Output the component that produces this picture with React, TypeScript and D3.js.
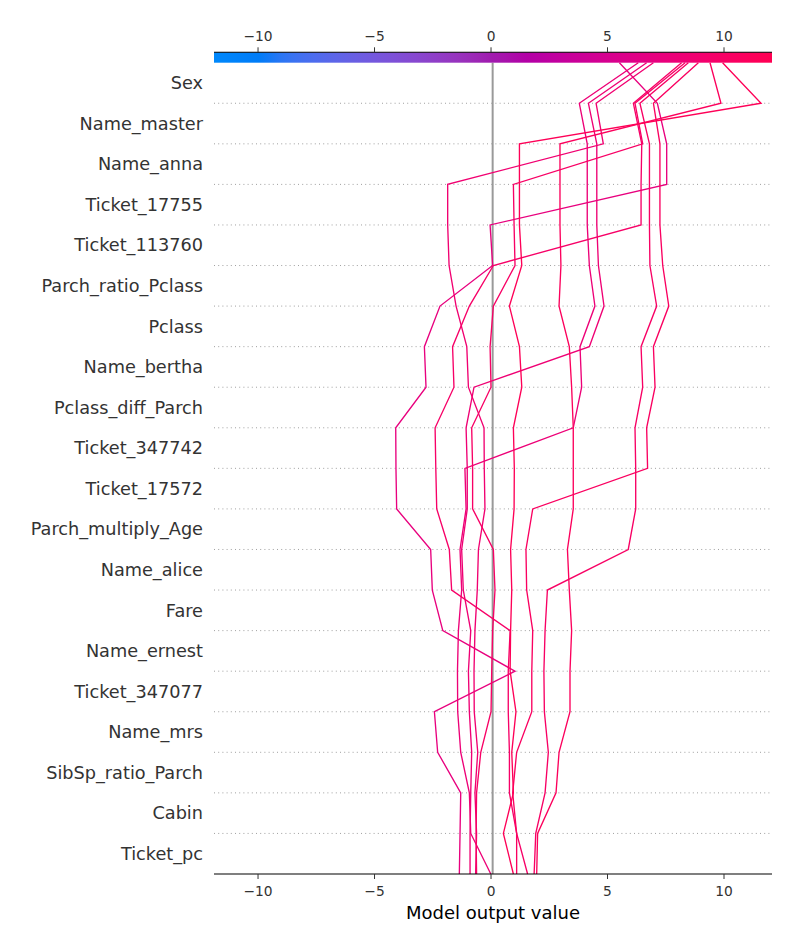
import React from 'react';
import * as d3 from 'd3';

// features, top (most important) to bottom
const features = [
  'Sex', 'Name_master', 'Name_anna', 'Ticket_17755', 'Ticket_113760',
  'Parch_ratio_Pclass', 'Pclass', 'Name_bertha', 'Pclass_diff_Parch', 'Ticket_347742',
  'Ticket_17572', 'Parch_multiply_Age', 'Name_alice', 'Fare', 'Name_ernest',
  'Ticket_347077', 'Name_mrs', 'SibSp_ratio_Parch', 'Cabin', 'Ticket_pc',
];

// cumulative model output per observation, read from the top boundary down to the bottom one
const obs1 = [5.51, 7.14, 7.54, 7.54, -0.04, 0.07, -2.19, -2.86, -2.79, -4.09, -4.08, -4.05, -2.59, -2.52, -2.07, 1.03, -2.43, -2.29, -1.30, -1.33, -1.36];
const obs2 = [6.32, 3.79, 4.13, 4.13, 4.13, 4.22, 4.46, 3.82, 3.89, 3.53, -1.12, -1.07, -1.33, -1.26, -1.40, -1.44, -1.43, -1.30, -0.93, -0.87, -0.01];
const obs3 = [6.68, 4.18, 4.54, 4.54, 4.54, 4.61, 4.85, 4.22, -0.73, -1.07, -1.02, -1.02, -1.26, -1.19, -0.87, -0.97, -0.93, -0.83, -0.87, -0.90, -0.90];
const obs4 = [6.97, 4.51, 4.82, -1.86, -1.86, -1.80, -1.50, -1.04, -0.97, -0.30, -0.29, -0.26, -0.54, -0.59, -0.69, -0.73, -0.72, -0.57, -0.69, -0.62, -0.66];
const obs5 = [8.18, 6.11, 6.47, 6.44, 6.44, 0.10, -0.93, -1.65, -1.59, -2.40, -2.37, -2.33, -1.79, -1.69, 0.82, 0.74, 0.74, 0.79, 0.79, 1.10, 1.57];
const obs6 = [8.33, 6.18, 6.51, 0.96, 0.99, 1.03, 0.10, -0.04, 0.00, -0.83, -0.79, -0.79, 0.10, 0.17, 0.07, 0.03, 0.00, -0.44, -0.62, -0.64, -0.62];
const obs7 = [8.47, 6.39, 6.80, 6.80, 6.80, 6.82, 7.11, 6.44, 6.51, 6.18, 6.21, 6.21, 5.89, 2.42, 2.32, 2.27, 2.29, 2.46, 2.32, 1.92, 1.85];
const obs8 = [8.90, 6.97, 7.25, 7.25, 7.25, 7.37, 7.63, 6.97, 7.04, 6.68, 6.72, 1.79, 1.50, 1.53, 1.79, 1.75, 1.75, 1.10, 0.93, 1.10, 1.10];
const obs9 = [9.40, 9.87, 2.96, 2.96, 2.96, 3.00, 2.92, 3.36, 3.46, 3.53, 3.53, 3.53, 3.28, 3.36, 3.46, 3.39, 3.39, 2.92, 2.79, 2.00, 1.96];
const obs10 = [9.94, 11.59, 1.22, 1.22, 1.22, 1.32, 0.79, 1.22, 1.32, 0.96, 1.00, 0.99, 0.84, 0.89, 0.84, 0.82, 1.07, 0.89, 0.96, 0.53, 0.96];

const observations = [obs1, obs2, obs3, obs4, obs5, obs6, obs7, obs8, obs9, obs10];
const xTicks = [-10, -5, 0, 5, 10];
const baseValue = 0.07;
const xDomain = [-11.89, 12.06];

const FONT = '"DejaVu Sans", sans-serif';
const AXIS_COLOR = '#333333';

// shap's red_blue colormap (lch, lightness dips in the middle)
const redBlue = (t: number) => {
  t = Math.max(0, Math.min(1, t));
  const l = t < 0.5 ? 54 - 14 * (t / 0.5) : 40 + 14 * ((t - 0.5) / 0.5);
  const c = 70 + 20 * t;
  const h = 4.6588 + t * (0.35470565 + 2 * Math.PI - 4.6588);
  return d3.hcl((h * 180) / Math.PI, c, l).formatHex();
};

const fmt = (t: number) => (t < 0 ? `\u2212${Math.abs(t)}` : `${t}`);

const App = () => {
  const width = 800;
  const height = 950;
  const left = 214;
  const right = 772;
  const top = 62.7;
  const bottom = 874;
  const cbTop = 52.3;
  const n = features.length;

  const x = d3.scaleLinear().domain(xDomain).range([left, right]);
  const y = d3.scaleLinear().domain([0, n]).range([bottom, top]);

  const line = d3.line<number>()
    .x(d => x(d))
    .y((_, i) => y(n - i));

  const stops = d3.range(0, 1.0001, 0.02);
  const lineColor = (v: number) =>
    redBlue((v - xDomain[0]) / (xDomain[1] - xDomain[0]) + 0.07);

  return (
    <svg width={width} height={height} style={{ position: 'absolute', left: 0, top: 0, background: '#fff' }}>
      <defs>
        <linearGradient id="cbar" x1="0" x2="1" y1="0" y2="0">
          {stops.map(s => (
            <stop key={s} offset={s} stopColor={redBlue(s)} />
          ))}
        </linearGradient>
      </defs>

      {/* dotted row separators */}
      {d3.range(1, n).map(k => (
        <line key={k} x1={left} x2={right} y1={y(k)} y2={y(k)}
          stroke="#888888" strokeWidth={0.8} strokeDasharray="1 3.2" />
      ))}

      {/* base value */}
      <line x1={x(baseValue)} x2={x(baseValue)} y1={top} y2={bottom} stroke="#999999" strokeWidth={2} />

      {/* decision lines */}
      {observations.map((o, i) => (
        <path key={i} d={line(o) ?? ''} fill="none"
          stroke={lineColor(o[0])} strokeWidth={1.35} strokeLinejoin="miter" />
      ))}

      {/* feature labels */}
      {features.map((f, i) => (
        <text key={f} x={203} y={y(n - i - 0.5)} dy="0.35em" textAnchor="end"
          fontFamily={FONT} fontSize={17.7} fill={AXIS_COLOR}>{f}</text>
      ))}

      {/* colorbar with top axis */}
      <rect x={left} y={cbTop} width={right - left} height={top - cbTop} fill="url(#cbar)" />
      <line x1={left} x2={right} y1={cbTop} y2={cbTop} stroke="#000" strokeWidth={1.1} />
      {xTicks.map(t => (
        <g key={`top${t}`}>
          <line x1={x(t)} x2={x(t)} y1={cbTop} y2={cbTop - 5} stroke={AXIS_COLOR} strokeWidth={1} />
          <text x={x(t)} y={40.5} textAnchor="middle" fontFamily={FONT} fontSize={13.8} fill={AXIS_COLOR}>
            {fmt(t)}
          </text>
        </g>
      ))}

      {/* bottom axis */}
      <line x1={left} x2={right} y1={bottom} y2={bottom} stroke="#000" strokeWidth={1.1} />
      {xTicks.map(t => (
        <g key={`bot${t}`}>
          <line x1={x(t)} x2={x(t)} y1={bottom} y2={bottom + 5} stroke={AXIS_COLOR} strokeWidth={1} />
          <text x={x(t)} y={896} textAnchor="middle" fontFamily={FONT} fontSize={13.8} fill={AXIS_COLOR}>
            {fmt(t)}
          </text>
        </g>
      ))}
      <text x={(left + right) / 2} y={918.5} textAnchor="middle" fontFamily={FONT} fontSize={18} fill="#000">
        Model output value
      </text>
    </svg>
  );
};

export default App;
